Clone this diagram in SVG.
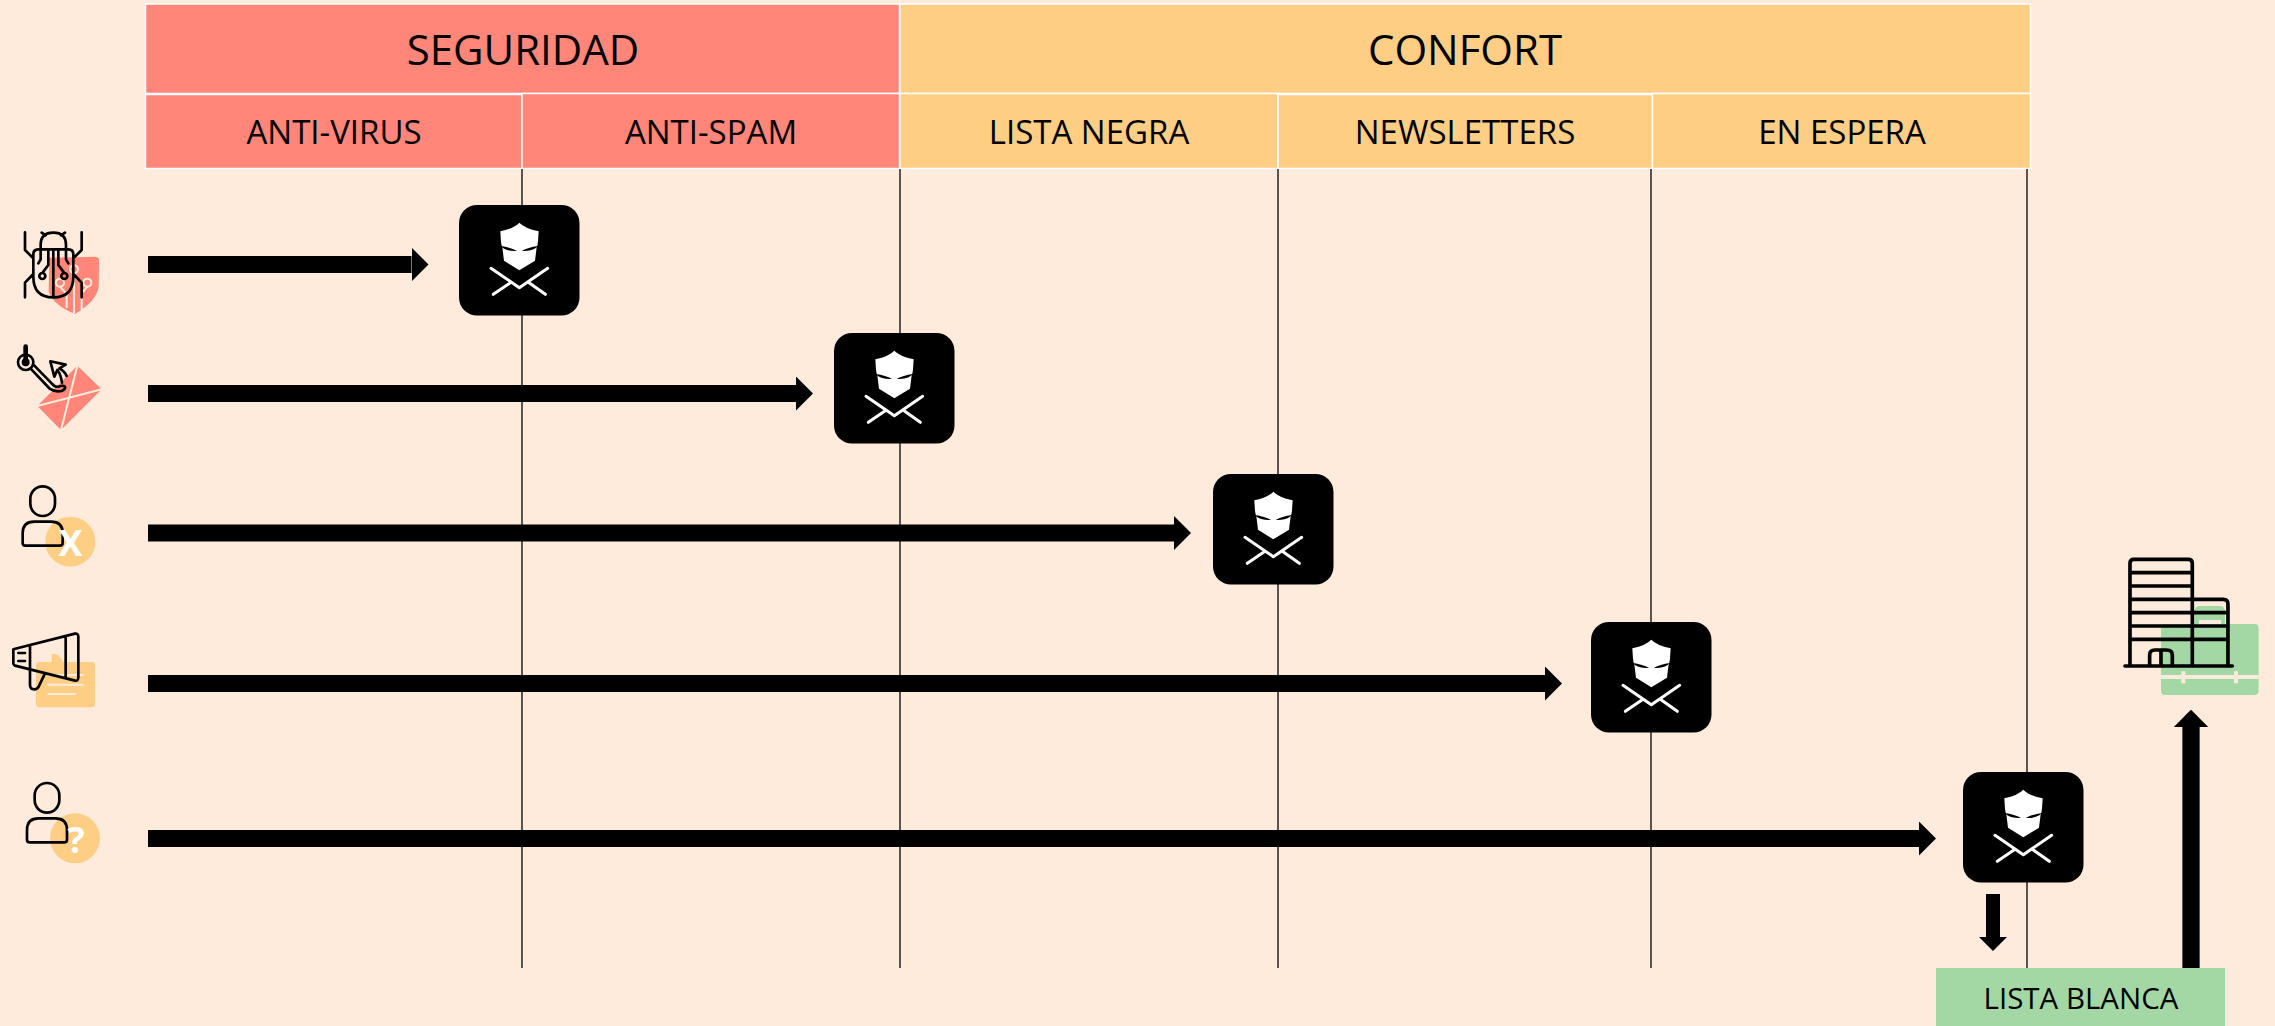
<svg xmlns="http://www.w3.org/2000/svg" xmlns:xlink="http://www.w3.org/1999/xlink" width="2275" height="1026" viewBox="0 0 2275 1026">
<style>
text{font-family:"Open Sans","Noto Sans","Liberation Sans",sans-serif;fill:#000;text-anchor:middle}
.h1{font-size:42px}.h2{font-size:33px}.wl{font-size:29.5px}
.red{fill:#FF8679;stroke:#fff;stroke-width:1.5}
.org{fill:#FFCE85;stroke:#fff;stroke-width:1.5}
.grn{fill:#A3D8A5}
.grid line{stroke:#222;stroke-width:1.5}
.conn line{stroke:#000;marker-end:url(#head)}
.ol{fill:none;stroke:#000;stroke-width:8;stroke-linecap:round;stroke-linejoin:round}
.bgl{fill:none;stroke:#FEEBDC;stroke-width:6;stroke-linecap:round;stroke-linejoin:round}
.badge{fill:#fff;font-weight:700;font-size:36px}
</style>
<defs>
<marker id="head" viewBox="0 -1 1 2" markerWidth="1" markerHeight="2" refX="0" refY="0" orient="auto" markerUnits="strokeWidth"><path d="M0,-1L1,0L0,1Z" fill="#000"/></marker>
<g id="guard">
<rect x="0" y="0" width="120.5" height="110.5" rx="18" fill="#000"/>
<g transform="scale(.3333) translate(-57,-45)">
<path fill="#fff" d="M238,98Q222,115 181,124L183,155Q184,165 187,172L192,212L238,241L285,212L290,172Q293,165 294,155L296,124Q254,115 238,98Z"/>
<path fill="#000" d="M182,168Q212,172 231,183Q206,185 190,175ZM294,168Q264,172 245,183Q270,185 286,175Z"/>
<path fill="none" stroke="#fff" stroke-width="9" stroke-linecap="round" stroke-linejoin="round" d="M153,235L238,293L323,235M160,313L213,277M316,313L265,277"/>
</g>
</g>
</defs>
<rect width="2275" height="1026" fill="#FEEBDC"/>
<g id="header">
<g id="seguridad"><rect class="red" x="145.5" y="4" width="754" height="89.5"/><text class="h1" x="523" y="65">SEGURIDAD</text></g>
<g id="confort"><rect class="org" x="900" y="4" width="1130.5" height="89.5"/><text class="h1" x="1465" y="65">CONFORT</text></g>
<g id="anti-virus"><rect class="red" x="145.5" y="94.5" width="376.5" height="74"/><text class="h2" x="334" y="144">ANTI-VIRUS</text></g>
<g id="anti-spam"><rect class="red" x="522" y="93.5" width="377.5" height="75"/><text class="h2" x="711" y="144">ANTI-SPAM</text></g>
<g id="lista-negra"><rect class="org" x="900" y="93.5" width="378" height="75"/><text class="h2" x="1089" y="144">LISTA NEGRA</text></g>
<g id="newsletters"><rect class="org" x="1278" y="94.5" width="374.5" height="74"/><text class="h2" x="1465" y="144">NEWSLETTERS</text></g>
<g id="en-espera"><rect class="org" x="1652.5" y="93.5" width="378" height="75"/><text class="h2" x="1842" y="144">EN ESPERA</text></g>
</g>
<g class="grid" id="grid">
<line x1="522" y1="169" x2="522" y2="968"/>
<line x1="900" y1="169" x2="900" y2="968"/>
<line x1="1278" y1="169" x2="1278" y2="968"/>
<line x1="1651" y1="169" x2="1651" y2="968"/>
<line x1="2027" y1="169" x2="2027" y2="968"/>
</g>
<g id="whitelist"><rect class="grn" x="1936" y="968" width="289" height="58"/><text class="wl" x="2081" y="1009">LISTA BLANCA</text></g>
<g class="conn" id="connectors">
<line x1="148" y1="264.5" x2="411.5" y2="264.5" stroke-width="17"/>
<line x1="148" y1="393.5" x2="796" y2="393.5" stroke-width="17"/>
<line x1="148" y1="533" x2="1174" y2="533" stroke-width="17"/>
<line x1="148" y1="683.5" x2="1545" y2="683.5" stroke-width="17"/>
<line x1="148" y1="838.5" x2="1919" y2="838.5" stroke-width="17"/>
<line x1="1993" y1="894" x2="1993" y2="937" stroke-width="14"/>
<line x1="2191" y1="968" x2="2191" y2="727" stroke-width="17.3"/>
</g>
<use id="node-antivirus" xlink:href="#guard" href="#guard" x="459" y="205"/>
<use id="node-antispam" xlink:href="#guard" href="#guard" x="834" y="333"/>
<use id="node-blacklist" xlink:href="#guard" href="#guard" x="1213" y="474"/>
<use id="node-newsletter" xlink:href="#guard" href="#guard" x="1591" y="622"/>
<use id="node-waiting" xlink:href="#guard" href="#guard" x="1963" y="772"/>
<g id="icon-virus" transform="translate(0,190) scale(.3333)">
<path fill="#FF8679" d="M148,203L285,200Q297,200 297,212L296,290Q290,332 225,372Q160,345 146,305Z"/>
<g class="bgl"><circle cx="222" cy="238" r="12"/><circle cx="180" cy="278" r="12"/><circle cx="262" cy="278" r="12"/><path d="M222,250V368M180,290L200,312V352M262,290L245,310V360"/></g>
<g class="ol"><path d="M115,178H205Q220,178 220,193V260Q220,322 160,322Q100,322 100,260V193Q100,178 115,178ZM122,178V165Q122,128 160,128Q198,128 198,165V178M125,128L137,136M195,128L183,136M75,127V180L100,205M245,127V180L220,205M75,322V278L100,252M245,322V278L220,252M160,178V322M145,178V225L130,245M175,178V225L190,245M122,178V208L115,220M198,178V208L205,220"/><circle cx="127" cy="258" r="9"/><circle cx="193" cy="258" r="9"/></g>
</g>
<g id="icon-phishing" transform="translate(0,190) scale(.3333)">
<path fill="#FF8679" d="M232,527L305,598L183,720L112,648Z"/>
<path class="bgl" d="M112,648L305,598M232,527L183,720"/>
<g class="ol"><circle cx="77" cy="517" r="23"/><circle cx="77" cy="517" r="8"/><path d="M77,470V517" stroke-width="14"/><path d="M92,536L150,597Q165,607 185,603Q197,598 195,590Q190,585 175,590Q165,592 155,580L100,524"/><path d="M151,514L197,524L178,535Q195,545 200,558M151,514L163,560L172,540Q182,552 186,578"/></g>
</g>
<g id="icon-blacklist" transform="translate(0,470) scale(.3333)">
<circle cx="211" cy="215" r="75" fill="#FFCE85"/>
<g class="ol"><rect x="91" y="49" width="74" height="89" rx="37"/><path d="M68,219V190Q68,155 103,155H153Q188,155 188,190V219Q188,227 180,227H76Q68,227 68,219Z"/></g>
</g>
<text class="badge" x="70.5" y="556">X</text>
<g id="icon-newsletter" transform="translate(0,470) scale(.3333)">
<path fill="#FFCE85" d="M155,576V552Q175,548 190,576Z"/><rect x="108" y="576" width="177" height="136" rx="10" fill="#FFCE85"/>
<path class="bgl" d="M145,615H248M145,644H248M145,672H225"/>
<path class="ol" d="M40,538L225,491Q235,490 235,500V622Q235,634 225,632L45,587Q40,585 40,580ZM197,500V624M90,527V645Q90,658 103,658Q112,658 116,650L135,610M55,549H75M55,573H75"/>
</g>
<g id="icon-waiting" transform="translate(0,470) scale(.3333)">
<circle cx="225" cy="1105" r="75" fill="#FFCE85"/>
<g class="ol"><rect x="104" y="939" width="74" height="89" rx="37"/><path d="M81,1109V1080Q81,1045 116,1045H166Q201,1045 201,1080V1109Q201,1117 193,1117H89Q81,1117 81,1109Z"/></g>
</g>
<text class="badge" x="76" y="853">?</text>
<g id="icon-company" transform="translate(1900,530) scale(.3333)">
<path class="grn" d="M883,282V245Q883,228 900,228H958Q975,228 975,245V282Z"/>
<path fill="#FEEBDC" d="M897,270H963V282H897Z"/>
<rect class="grn" x="783" y="282" width="293" height="213" rx="12"/>
<path d="M783,441H1076M850,424V460M1008,424V460" fill="none" stroke="#FEEBDC" stroke-width="12" stroke-linecap="butt"/>
<path fill="none" stroke="#000" stroke-width="11" stroke-linejoin="round" d="M690,405V100Q690,88 702,88H865Q877,88 877,100V405M690,128H877M690,168H877M690,208H877M690,248H984M690,288H984M690,328H984M877,208H970Q984,208 984,222V405M749,405V375Q749,360 765,360H800Q817,360 817,375V405M783,360V405"/>
<path stroke="#000" stroke-width="11" stroke-linecap="round" d="M675,408H997"/>
</g>
</svg>
